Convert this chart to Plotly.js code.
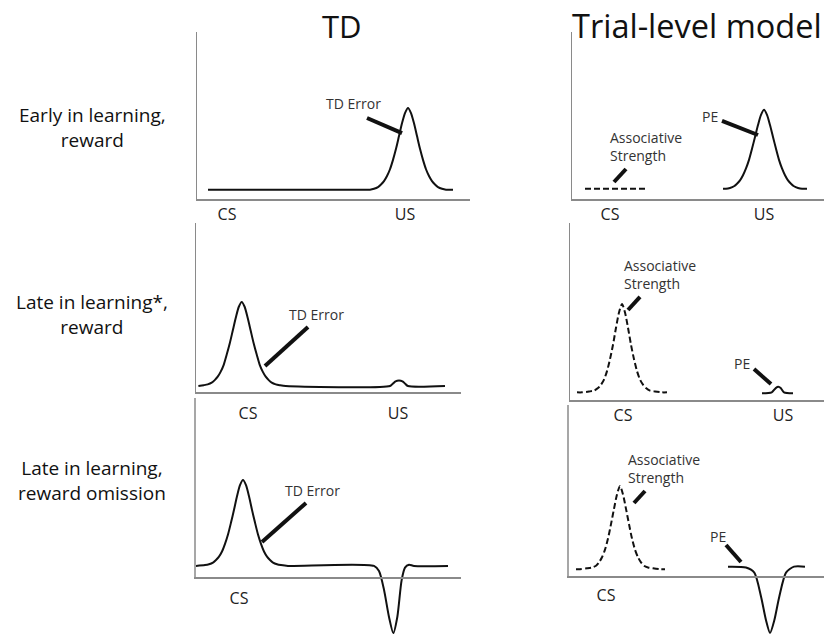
<!DOCTYPE html>
<html><head><meta charset="utf-8">
<script src="https://cdn.plot.ly/plotly-3.0.1.min.js"></script>
<style>html,body{margin:0;padding:0;background:#fff}#chart{width:824px;height:635px}</style>
</head><body><div id="chart"></div>
<script>
// ================= DATA =================
const columnTitles = ['TD', 'Trial-level model'];
const rowLabels = ['Early in learning,<br>reward', 'Late in learning*,<br>reward', 'Late in learning,<br>reward omission'];
const eventNames = ['CS', 'US'];

// Row 1 - TD model, early in learning, reward
const tdEarlyTime  = [2.75, 41.75, 43.25, 44.25, 45.25, 46.0, 46.75, 47.5, 48.25, 49.0, 49.75, 50.5, 51.25, 52.0, 52.75, 53.5, 54.25, 55.0, 55.75, 56.5, 57.25, 58.0, 58.75, 59.5, 60.25, 61.25, 62.25, 64.0];
const tdEarlyError = [0.11, 0.11, 0.11, 0.12, 0.14, 0.17, 0.21, 0.27, 0.35, 0.46, 0.59, 0.74, 0.89, 1.01, 1.07, 1.01, 0.89, 0.74, 0.59, 0.46, 0.35, 0.27, 0.21, 0.17, 0.14, 0.12, 0.11, 0.11];
const tdEarlyTicks = [7.5, 52];

// Row 1 - Trial-level model
const trialEarlyASTime = [3.25, 18.25];
const trialEarlyAS     = [0.12, 0.12];
const trialEarlyPETime = [37.75, 38.5, 39.5, 40.5, 41.25, 42.0, 42.75, 43.5, 44.25, 45.0, 45.75, 46.5, 47.25, 48.0, 48.75, 49.5, 50.25, 51.0, 51.75, 52.5, 53.25, 54.0, 54.75, 55.5, 56.5, 57.5, 58.75];
const trialEarlyPE     = [0.12, 0.12, 0.13, 0.15, 0.18, 0.22, 0.28, 0.36, 0.46, 0.59, 0.73, 0.87, 0.99, 1.05, 0.99, 0.87, 0.73, 0.59, 0.46, 0.36, 0.28, 0.22, 0.18, 0.15, 0.13, 0.12, 0.12];
const trialEarlyTicks = [9.5, 48];

// Row 2 - TD model, late in learning, reward
const tdLateTime  = [0.6, 1.93, 2.93, 3.93, 4.68, 5.43, 6.18, 6.93, 7.68, 8.43, 9.18, 9.93, 10.68, 11.43, 12.18, 12.93, 13.68, 14.43, 15.18, 15.93, 16.68, 17.43, 18.18, 18.93, 19.93, 20.93, 22.43, 48.5, 49.25, 49.88, 50.75, 51.63, 52.25, 53.0, 62.25];
const tdLateError = [0.07, 0.08, 0.09, 0.11, 0.14, 0.18, 0.24, 0.32, 0.44, 0.57, 0.72, 0.87, 1.0, 1.06, 1.0, 0.87, 0.72, 0.57, 0.44, 0.32, 0.24, 0.18, 0.14, 0.11, 0.09, 0.08, 0.07, 0.07, 0.10, 0.125, 0.135, 0.125, 0.10, 0.07, 0.07];
const tdLateTicks = [13, 50.5];

// Row 2 - Trial-level model
const trialLateASTime = [1.75, 3.0, 4.75, 6.0, 7.0, 7.75, 8.5, 9.25, 10.0, 10.75, 11.5, 12.25, 13.0, 13.75, 14.5, 15.25, 16.0, 16.75, 17.5, 18.25, 19.0, 20.0, 21.25, 23.0, 24.25];
const trialLateAS     = [0.09, 0.09, 0.10, 0.11, 0.14, 0.18, 0.24, 0.34, 0.48, 0.65, 0.85, 1.03, 1.13, 1.03, 0.85, 0.65, 0.48, 0.34, 0.24, 0.18, 0.14, 0.11, 0.10, 0.09, 0.09];
const trialLatePETime = [48.0, 50.43, 51.43, 52.08, 52.68, 53.5, 55.75];
const trialLatePE     = [0.08, 0.09, 0.14, 0.155, 0.14, 0.09, 0.08];
const trialLateTicks = [13.25, 53.25];

// Row 3 - TD model, late in learning, reward omission
const tdOmitTime  = [0.25, 2.5, 3.5, 4.5, 5.25, 6.0, 6.75, 7.5, 8.25, 9.0, 9.75, 10.5, 11.25, 12.0, 12.75, 13.5, 14.25, 15.0, 15.75, 16.5, 17.25, 18.0, 18.75, 19.5, 20.5, 21.5, 23.25, 44.75, 46.0, 47.25, 48.5, 49.58, 50.58, 51.65, 52.5, 53.5, 54.75, 63.25];
const tdOmitError = [0.13, 0.14, 0.15, 0.17, 0.20, 0.24, 0.30, 0.39, 0.50, 0.64, 0.79, 0.95, 1.08, 1.14, 1.08, 0.95, 0.79, 0.64, 0.50, 0.39, 0.30, 0.24, 0.20, 0.17, 0.15, 0.14, 0.13, 0.13, 0.07, -0.15, -0.47, -0.66, -0.47, -0.04, 0.11, 0.145, 0.13, 0.13];
const tdOmitTicks = [11];

// Row 3 - Trial-level model
const trialOmitASTime = [2.0, 3.0, 4.75, 6.0, 7.0, 7.75, 8.5, 9.25, 10.0, 10.75, 11.5, 12.25, 13.0, 13.75, 14.5, 15.25, 16.0, 16.75, 17.5, 18.25, 19.0, 20.0, 21.25, 23.0, 24.25];
const trialOmitAS     = [0.08, 0.08, 0.09, 0.10, 0.12, 0.16, 0.22, 0.31, 0.44, 0.61, 0.79, 0.96, 1.06, 0.96, 0.79, 0.61, 0.44, 0.31, 0.22, 0.16, 0.12, 0.10, 0.09, 0.08, 0.08];
const trialOmitPETime = [40.0, 44.5, 46.58, 48.25, 49.5, 50.5, 51.58, 52.83, 54.5, 56.5, 59.25];
const trialOmitPE     = [0.11, 0.10, 0.04, -0.24, -0.52, -0.67, -0.52, -0.24, 0.04, 0.11, 0.11];
const trialOmitTicks = [9.5];

// ================= LAYOUT / STYLE =================
const W = 824, H = 635, XU = 4, YU = 85;
const FONT = '"Open Sans", "DejaVu Sans", sans-serif';
const axisColor = '#8a8a8a';
const ink = '#111111';

// pixel geometry of each panel (left, right, top, x-axis line, bottom)
const geom = [
  {left:197, right:470, top:32,  axis:199, bottom:199, stand:0},
  {left:572, right:824, top:32,  axis:199, bottom:199, stand:0},
  {left:196, right:461, top:223, axis:392, bottom:392, stand:6},
  {left:570, right:824, top:223, axis:400, bottom:400, stand:0},
  {left:195, right:461, top:398, axis:577, bottom:635, stand:6},
  {left:568, right:824, top:405, axis:576, bottom:635, stand:4}
];
const panelTicks = [tdEarlyTicks, trialEarlyTicks, tdLateTicks, trialLateTicks, tdOmitTicks, trialOmitTicks];

const layout = {
  width: W, height: H, margin: {l:0, r:0, t:0, b:0},
  paper_bgcolor: '#fff', plot_bgcolor: 'rgba(0,0,0,0)',
  showlegend: false, font: {family: FONT, color: ink},
  annotations: [], shapes: []
};

geom.forEach((g, i) => {
  const n = i + 1, sfx = n === 1 ? '' : String(n);
  const free = g.bottom !== g.axis;
  const pad = free ? 1 : 0;
  layout['xaxis' + sfx] = {
    domain: [(g.left - pad) / W, Math.min(1, g.right / W)],
    range: [-pad / XU, (g.right - g.left) / XU],
    anchor: free ? 'free' : 'y' + sfx,
    position: free ? 1 - g.axis / H : undefined,
    showline: true, linecolor: axisColor, linewidth: 1.5,
    showgrid: false, zeroline: false, ticks: '',
    tickmode: 'array', tickvals: panelTicks[i],
    ticktext: eventNames.slice(0, panelTicks[i].length),
    tickfont: {family: FONT, size: 16, color: '#222'},
    ticklabelstandoff: g.stand, fixedrange: true
  };
  layout['yaxis' + sfx] = {
    domain: [1 - g.bottom / H, 1 - g.top / H],
    range: [-(g.bottom - g.axis) / YU, (g.axis - g.top) / YU],
    anchor: 'x' + sfx,
    showline: !free, linecolor: axisColor, linewidth: 1.5,
    showgrid: false, zeroline: false, showticklabels: false, ticks: '', fixedrange: true
  };
  if (free) {
    layout.shapes.push({type:'line', xref:'x' + sfx, yref:'y' + sfx, x0:0, x1:0, y0:0, y1:(g.axis - g.top) / YU,
      line:{color:axisColor, width:1.5}});
  }
});

// leader lines (data coords of each panel)
const leaders = [
  [1, 42.5, 0.953, 51.25, 0.776],
  [2, 37.5, 0.918, 46.5, 0.753],
  [2, 10.5, 0.20, 13.5, 0.353],
  [3, 17.25, 0.306, 28.0, 0.765],
  [4, 14.5, 1.059, 17.5, 1.212],
  [4, 46.0, 0.365, 50.25, 0.188],
  [5, 16.75, 0.412, 27.75, 0.871],
  [6, 16.5, 0.859, 19.25, 1.0],
  [6, 39.5, 0.365, 43.25, 0.165]
];
leaders.forEach(([p, x0, y0, x1, y1]) => {
  const s = p === 1 ? '' : String(p);
  layout.shapes.push({type:'line', xref:'x' + s, yref:'y' + s, x0, y0, x1, y1, line:{color:ink, width:4}});
});

// curve labels
const labels = [
  [1, 39.0, 1.118, 'TD Error', 'center'],
  [2, 34.5, 0.965, 'PE', 'center'],
  [2, 9.0, 0.618, 'Associative<br>Strength', 'left'],
  [3, 30.0, 0.906, 'TD Error', 'center'],
  [4, 13.0, 1.476, 'Associative<br>Strength', 'left'],
  [4, 43.0, 0.435, 'PE', 'center'],
  [5, 29.25, 1.012, 'TD Error', 'center'],
  [6, 14.5, 1.265, 'Associative<br>Strength', 'left'],
  [6, 37.5, 0.459, 'PE', 'center']
];
labels.forEach(([p, x, y, text, anc]) => {
  const s = p === 1 ? '' : String(p);
  layout.annotations.push({xref:'x' + s, yref:'y' + s, x, y, text, showarrow:false,
    xanchor:anc, yanchor:'middle', align:'left', font:{family:FONT, size:14, color:'#333'}});
});

// column titles
layout.annotations.push({xref:'paper', yref:'paper', x:342 / W, y:1 - 26 / H, text:columnTitles[0], showarrow:false,
  xanchor:'center', yanchor:'middle', font:{family:FONT, size:31, color:'#111'}});
layout.annotations.push({xref:'paper', yref:'paper', x:570 / W, y:1 - 26 / H, text:columnTitles[1], showarrow:false,
  xanchor:'left', yanchor:'middle', font:{family:FONT, size:32.5, color:'#111'}});

// row labels
const rowCenters = [127.5, 314.5, 480.5];
rowLabels.forEach((t, i) => {
  layout.annotations.push({xref:'paper', yref:'paper', x:92 / W, y:1 - rowCenters[i] / H, text:t, showarrow:false,
    xanchor:'center', yanchor:'middle', align:'center', font:{family:FONT, size:19, color:'#111'}});
});

// ================= TRACES =================
function curve(x, y, p, dashed) {
  const s = p === 1 ? '' : String(p);
  return {type:'scatter', mode:'lines', x, y, xaxis:'x' + s, yaxis:'y' + s, hoverinfo:'skip',
    line:{color:ink, width:2, shape:'spline', smoothing:0.7, dash: dashed ? '6px,3px' : 'solid'}};
}
const data = [
  curve(tdEarlyTime, tdEarlyError, 1, false),
  curve(trialEarlyASTime, trialEarlyAS, 2, true),
  curve(trialEarlyPETime, trialEarlyPE, 2, false),
  curve(tdLateTime, tdLateError, 3, false),
  curve(trialLateASTime, trialLateAS, 4, true),
  curve(trialLatePETime, trialLatePE, 4, false),
  curve(tdOmitTime, tdOmitError, 5, false),
  curve(trialOmitASTime, trialOmitAS, 6, true),
  curve(trialOmitPETime, trialOmitPE, 6, false)
];

Plotly.newPlot('chart', data, layout, {displayModeBar:false, staticPlot:true});
</script></body></html>
